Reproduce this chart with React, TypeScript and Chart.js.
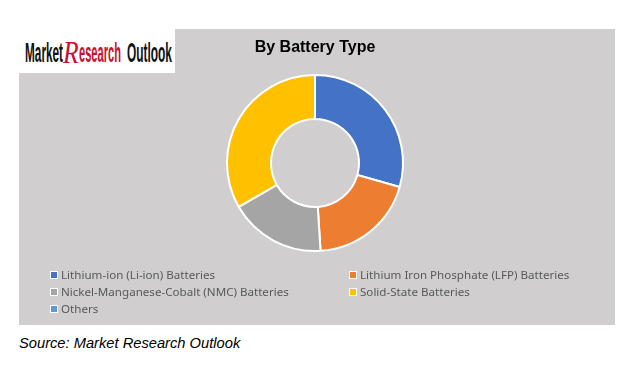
import React, { useEffect, useRef } from "react";
import { Chart, registerables } from "chart.js";

Chart.register(...registerables);

const chartTitle = "By Battery Type";
const categories = [
  "Lithium-ion (Li-ion) Batteries",
  "Lithium Iron Phosphate (LFP) Batteries",
  "Nickel-Manganese-Cobalt (NMC) Batteries",
  "Solid-State Batteries",
  "Others",
];
const shares = [29.4, 19.6, 17.7, 33.3, 0];
const sliceColors = ["#4472C4", "#ED7D31", "#A5A5A5", "#FFC000", "#5B9BD5"];
const sourceText = "Source: Market Research Outlook";

const legendPlugin = {
  id: "gridLegend",
  afterDraw(chart: any) {
    const ctx = chart.ctx;
    const labels: string[] = chart.data.labels;
    const colors: string[] = chart.data.datasets[0].backgroundColor;
    const colX = [31, 330];
    const rowY0 = 246;
    const rowH = 17;
    ctx.save();
    ctx.font = "11.6px 'Noto Sans', 'Open Sans', sans-serif";
    ctx.textBaseline = "middle";
    ctx.textAlign = "left";
    labels.forEach((lab, i) => {
      const x = colX[i % 2];
      const y = rowY0 + Math.floor(i / 2) * rowH;
      ctx.fillStyle = "#FFFFFF";
      ctx.fillRect(x, y - 4, 8, 8);
      ctx.fillStyle = colors[i];
      ctx.fillRect(x + 1, y - 3, 6, 6);
      ctx.fillStyle = "#595959";
      ctx.fillText(lab, x + 11, y + 0.5);
    });
    ctx.restore();
  },
};

export default function App() {
  const canvasRef = useRef<HTMLCanvasElement | null>(null);

  useEffect(() => {
    if (!canvasRef.current) return;
    const chart = new Chart(canvasRef.current, {
      type: "doughnut",
      data: {
        labels: categories,
        datasets: [
          {
            data: shares,
            backgroundColor: sliceColors,
            borderColor: "#FFFFFF",
            borderWidth: 2,
          },
        ],
      },
      options: {
        animation: false,
        responsive: false,
        maintainAspectRatio: false,
        cutout: "50%",
        layout: { padding: { top: 0, bottom: 73, left: 100, right: 104 } },
        plugins: {
          legend: { display: false },
          tooltip: { enabled: false },
          title: {
            display: true,
            text: chartTitle,
            color: "#000000",
            font: { family: "'Liberation Sans', Arial, sans-serif", size: 16, weight: "bold" },
            padding: { top: 9.4, bottom: 16.4 },
          },
        },
      },
      plugins: [legendPlugin],
    });
    return () => chart.destroy();
  }, []);

  return (
    <div
      style={{
        position: "fixed",
        left: 0,
        top: 0,
        width: 626,
        height: 366,
        background: "#FFFFFF",
        overflow: "hidden",
      }}
    >
      <canvas
        ref={canvasRef}
        width={596}
        height={296}
        style={{
          position: "absolute",
          left: 19,
          top: 29,
          width: 596,
          height: 296,
          background: "#D0CECE",
        }}
      />
      <div
        style={{
          position: "absolute",
          left: 0,
          top: 29,
          width: 175,
          height: 44,
          background: "#FFFFFF",
          fontFamily: "'Liberation Sans', Arial, sans-serif",
          fontSize: 28,
          lineHeight: "28px",
          fontWeight: "bold",
          whiteSpace: "nowrap",
        }}
      >
        <span style={{ position: "absolute", left: 25, top: 10.3, color: "#111", display: "inline-block", transform: "scaleX(0.421)", transformOrigin: "left top" }}>Market</span>
        <span style={{ position: "absolute", left: 63, top: 8.5, color: "#C8102E", fontFamily: "'Liberation Serif', serif", fontStyle: "italic", fontWeight: "normal", fontSize: 32, display: "inline-block", transform: "scaleX(0.8)", transformOrigin: "left top" }}>R</span>
        <span style={{ position: "absolute", left: 79, top: 10.3, color: "#C8102E", display: "inline-block", transform: "scaleX(0.397)", transformOrigin: "left top" }}>esearch</span>
        <span style={{ position: "absolute", left: 127, top: 10.3, color: "#111", display: "inline-block", transform: "scaleX(0.425)", transformOrigin: "left top" }}>Outlook</span>
      </div>
      <div
        style={{
          position: "absolute",
          left: 19,
          top: 336,
          fontFamily: "'Liberation Sans', Arial, sans-serif",
          fontStyle: "italic",
          fontSize: 14.7,
          lineHeight: "14px",
          color: "#000",
          whiteSpace: "nowrap",
        }}
      >
        {sourceText}
      </div>
    </div>
  );
}
